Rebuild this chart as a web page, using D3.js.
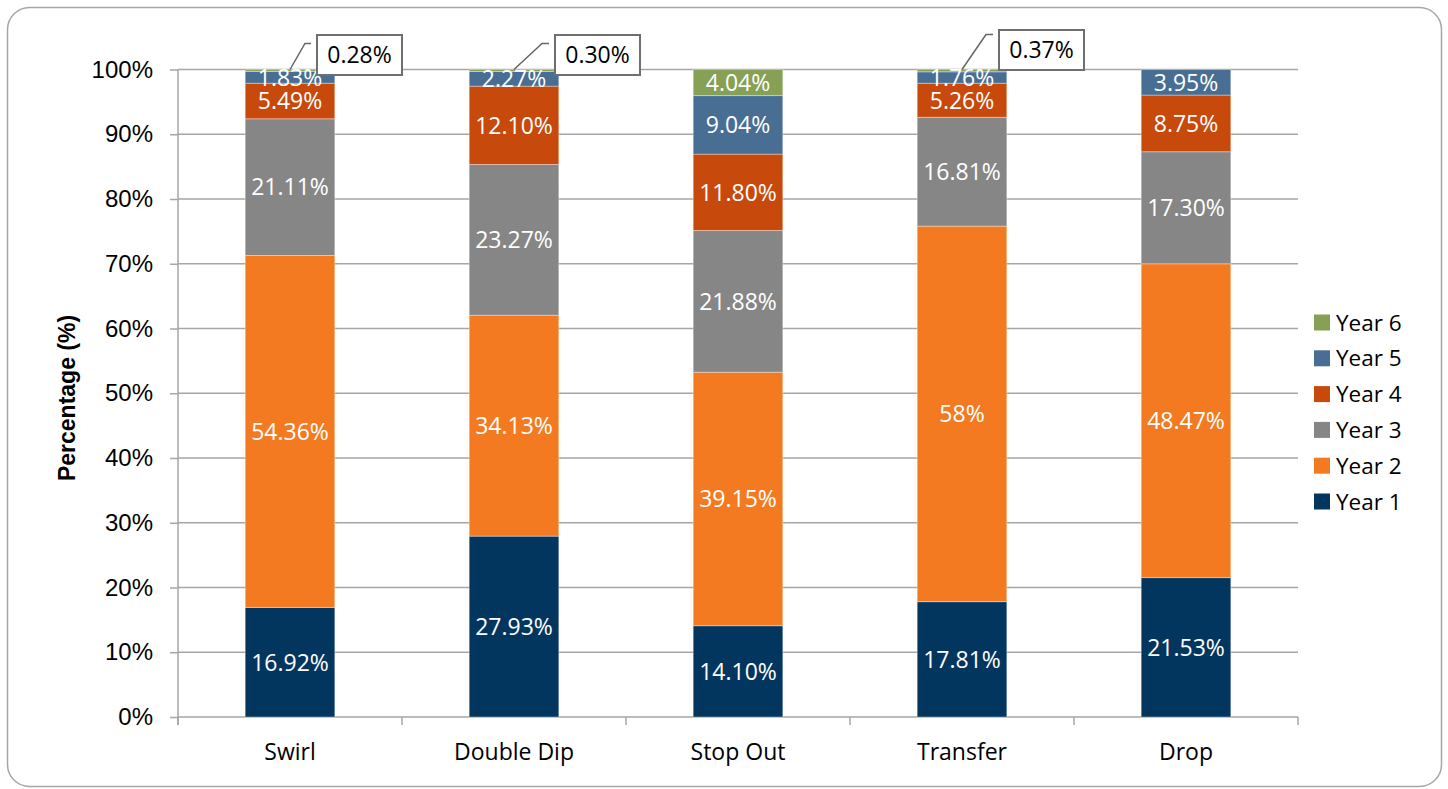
<!DOCTYPE html>
<html>
<head>
<meta charset="utf-8">
<script src="https://cdn.jsdelivr.net/npm/d3@7/dist/d3.min.js"></script>
<style>
  html, body { margin: 0; padding: 0; background: #fff; }
  svg { display: block; }
</style>
</head>
<body>
<svg id="chart" width="1448" height="789"></svg>
<script>
// ---- Data ----
const categories = ["Swirl", "Double Dip", "Stop Out", "Transfer", "Drop"];
const seriesNames = ["Year 1", "Year 2", "Year 3", "Year 4", "Year 5", "Year 6"];
const year1 = [16.92, 27.93, 14.10, 17.81, 21.53];
const year2 = [54.36, 34.13, 39.15, 58, 48.47];
const year3 = [21.11, 23.27, 21.88, 16.81, 17.30];
const year4 = [5.49, 12.10, 11.80, 5.26, 8.75];
const year5 = [1.83, 2.27, 9.04, 1.76, 3.95];
const year6 = [0.28, 0.30, 4.04, 0.37, 0];
const seriesValues = [year1, year2, year3, year4, year5, year6];
const seriesColors = ["#03365f", "#f47a21", "#868686", "#c8490c", "#486e94", "#86a055"];
const yTicks = [0, 10, 20, 30, 40, 50, 60, 70, 80, 90, 100];
// Year 6 values shown in callout boxes instead of inside the bar
const calloutCats = ["Swirl", "Double Dip", "Transfer"];

// ---- Layout ----
const svg = d3.select("#chart");
const plot = { left: 178, right: 1298, top: 69.5, bottom: 717 };

svg.append("rect")
  .attr("x", 7.5).attr("y", 7.5)
  .attr("width", 1434).attr("height", 779)
  .attr("rx", 22).attr("ry", 22)
  .attr("fill", "#fff").attr("stroke", "#a6a6a6").attr("stroke-width", 1.5);

const x = d3.scaleBand().domain(categories).range([plot.left, plot.right]).paddingInner(0.6).paddingOuter(0.3);
const y = d3.scaleLinear().domain([0, 100]).range([plot.bottom, plot.top]);

const labelFont = "'Open Sans', 'Noto Sans', sans-serif";
const axisFont = "'Liberation Sans', Arial, sans-serif";

// gridlines + y ticks
const yAxis = d3.axisLeft(y).tickValues(yTicks).tickSize(8).tickPadding(17).tickFormat(d => d + "%");
const gy = svg.append("g").attr("transform", `translate(${plot.left},0)`).call(yAxis);
gy.select(".domain").attr("stroke", "#a6a6a6").attr("stroke-width", 1.5)
  .attr("d", `M0,${plot.top}V${plot.bottom + 8}`);
gy.selectAll(".tick line").attr("stroke", "#a6a6a6").attr("stroke-width", 1.5);
gy.selectAll(".tick text").attr("font-family", axisFont).attr("font-size", 24).attr("fill", "#000");

svg.append("g").selectAll("line.grid").data(yTicks).join("line")
  .attr("x1", plot.left).attr("x2", plot.right)
  .attr("y1", d => y(d)).attr("y2", d => y(d))
  .attr("stroke", "#a6a6a6").attr("stroke-width", 1.5);

// x-axis boundary ticks
const step = x.step();
const boundaries = d3.range(categories.length + 1).map(i => plot.left + i * step);
svg.append("g").selectAll("line").data(boundaries).join("line")
  .attr("x1", d => d).attr("x2", d => d)
  .attr("y1", plot.bottom).attr("y2", plot.bottom + 8)
  .attr("stroke", "#a6a6a6").attr("stroke-width", 1.5);

// category labels
svg.append("g").selectAll("text").data(categories).join("text")
  .attr("x", d => x(d) + x.bandwidth() / 2)
  .attr("y", 760)
  .attr("text-anchor", "middle")
  .attr("font-family", labelFont).attr("font-size", 23).attr("fill", "#000")
  .text(d => d);

// y axis title
svg.append("text")
  .attr("transform", "translate(75,398) rotate(-90)")
  .attr("text-anchor", "middle")
  .attr("font-family", axisFont).attr("font-weight", "bold").attr("font-size", 23).attr("fill", "#000")
  .text("Percentage (%)");

// ---- stacked bars ----
const table = categories.map((c, i) => {
  const row = { cat: c };
  seriesNames.forEach((s, j) => row[s] = seriesValues[j][i]);
  return row;
});
const stack = d3.stack().keys(seriesNames)(table);
const fmt = v => Number.isInteger(v) ? v + "%" : v.toFixed(2) + "%";

const layers = svg.append("g").selectAll("g").data(stack).join("g")
  .attr("fill", (d, i) => seriesColors[i]);
layers.selectAll("rect").data(d => d.filter(p => p[1] - p[0] > 0)).join("rect")
  .attr("x", d => x(d.data.cat))
  .attr("width", x.bandwidth())
  .attr("y", d => y(d[1]))
  .attr("height", d => y(d[0]) - y(d[1]))
  .attr("stroke", "rgba(255,255,255,0.35)").attr("stroke-width", 1);

// in-bar labels
stack.forEach((layer, i) => {
  svg.append("g").selectAll("text")
    .data(layer.filter(p => (p[1] - p[0]) > 0 && !(i === 5 && calloutCats.includes(p.data.cat))))
    .join("text")
    .attr("x", d => x(d.data.cat) + x.bandwidth() / 2)
    .attr("y", d => y((d[0] + d[1]) / 2))
    .attr("dy", "0.36em")
    .attr("text-anchor", "middle")
    .attr("font-family", labelFont).attr("font-size", 23).attr("fill", "#fff")
    .text(d => fmt(seriesValues[i][categories.indexOf(d.data.cat)]));
});

// callouts for tiny Year 6 values
const calloutDx1 = [15, 28, 24];   // leader elbow offset from bar center
const calloutDy1 = [-26, -26, -35];
const calloutBoxDx = [27, 41, 37];
const calloutBoxTop = [35, 35, 30];
const calloutBoxW = 85, calloutBoxH = 40;
const cg = svg.append("g");
calloutCats.forEach((c, k) => {
  const i = categories.indexOf(c);
  const cx = x(c) + x.bandwidth() / 2;
  const top = y(100);
  const ex = cx + calloutDx1[k], ey = top + calloutDy1[k];
  const bx = cx + calloutBoxDx[k];
  cg.append("path")
    .attr("d", `M${cx},${top}L${ex},${ey}L${bx - 6},${ey}`)
    .attr("fill", "none").attr("stroke", "#666").attr("stroke-width", 1.5);
  cg.append("rect")
    .attr("x", bx).attr("y", calloutBoxTop[k])
    .attr("width", calloutBoxW).attr("height", calloutBoxH)
    .attr("fill", "#fff").attr("stroke", "#6f6f6f").attr("stroke-width", 2);
  cg.append("text")
    .attr("x", bx + calloutBoxW / 2).attr("y", calloutBoxTop[k] + calloutBoxH / 2)
    .attr("dy", "0.36em").attr("text-anchor", "middle")
    .attr("font-family", labelFont).attr("font-size", 23).attr("fill", "#000")
    .text(fmt(year6[i]));
});

// ---- legend ----
const legendOrder = seriesNames.map((s, i) => i).reverse();
const lg = svg.append("g");
legendOrder.forEach((si, r) => {
  const cy = 322.5 + r * 35.8;
  lg.append("rect").attr("x", 1314).attr("y", cy - 8).attr("width", 16).attr("height", 16)
    .attr("fill", seriesColors[si]);
  lg.append("text").attr("x", 1336).attr("y", cy).attr("dy", "0.36em")
    .attr("font-family", labelFont).attr("font-size", 22.5).attr("fill", "#000")
    .text(seriesNames[si]);
});
</script>
</body>
</html>
